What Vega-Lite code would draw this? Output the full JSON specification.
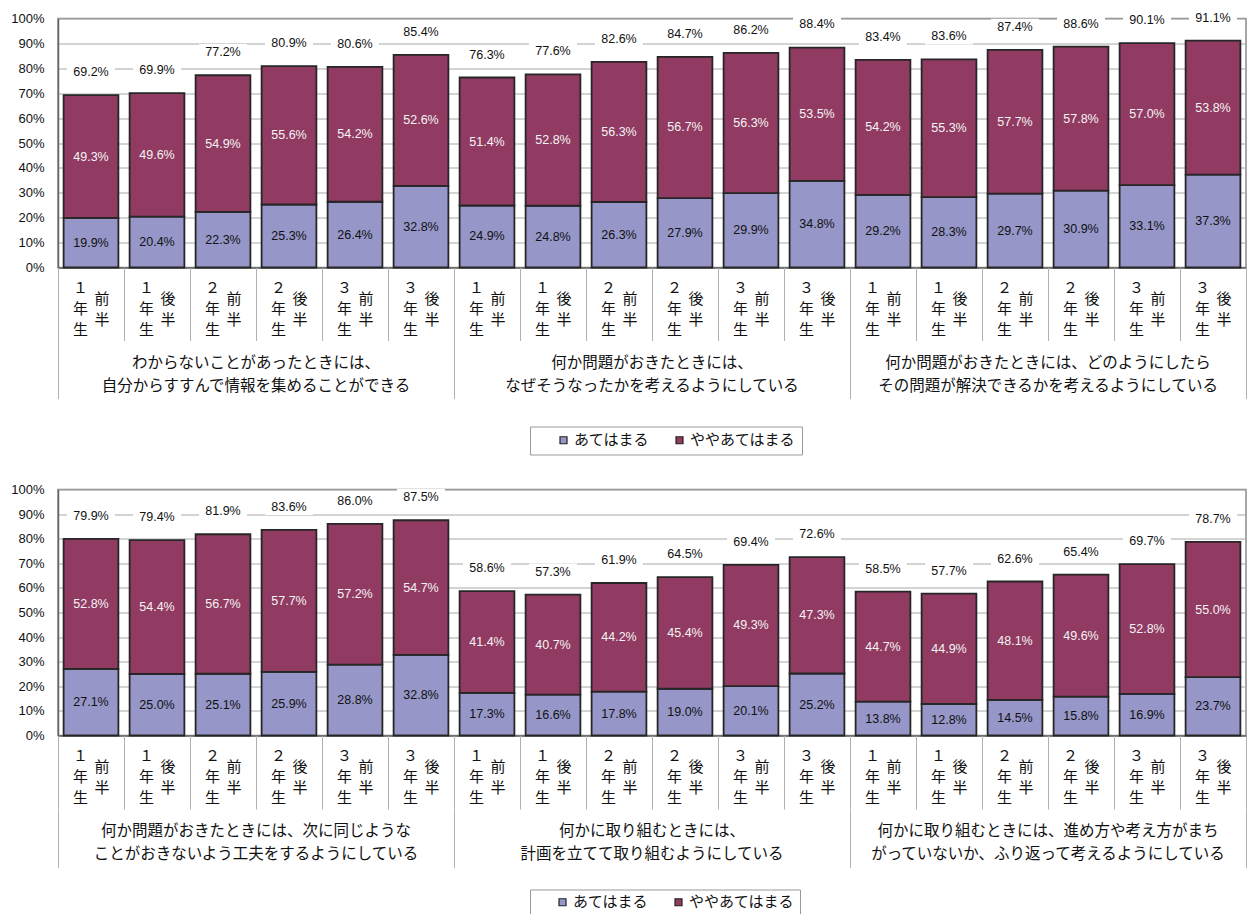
{
  "$schema": "https://vega.github.io/schema/vega-lite/v6.json",
  "background": "white",
  "padding": {"left": 10, "top": 8.5, "right": 0, "bottom": 0},
  "config": {
    "font": "Liberation Sans, Noto Sans CJK JP",
    "view": {"stroke": null},
    "text": {"color": "#111"},
    "axisY": {"tickCount": 12}
  },
  "datasets": {
    "seg": [
      {"p":1,"n":1,"type":"あてはまる","v":0.199},{"p":1,"n":1,"type":"ややあてはまる","v":0.493},
      {"p":1,"n":2,"type":"あてはまる","v":0.204},{"p":1,"n":2,"type":"ややあてはまる","v":0.496},
      {"p":1,"n":3,"type":"あてはまる","v":0.223},{"p":1,"n":3,"type":"ややあてはまる","v":0.549},
      {"p":1,"n":4,"type":"あてはまる","v":0.253},{"p":1,"n":4,"type":"ややあてはまる","v":0.556},
      {"p":1,"n":5,"type":"あてはまる","v":0.264},{"p":1,"n":5,"type":"ややあてはまる","v":0.542},
      {"p":1,"n":6,"type":"あてはまる","v":0.328},{"p":1,"n":6,"type":"ややあてはまる","v":0.526},
      {"p":1,"n":7,"type":"あてはまる","v":0.249},{"p":1,"n":7,"type":"ややあてはまる","v":0.514},
      {"p":1,"n":8,"type":"あてはまる","v":0.248},{"p":1,"n":8,"type":"ややあてはまる","v":0.528},
      {"p":1,"n":9,"type":"あてはまる","v":0.263},{"p":1,"n":9,"type":"ややあてはまる","v":0.563},
      {"p":1,"n":10,"type":"あてはまる","v":0.279},{"p":1,"n":10,"type":"ややあてはまる","v":0.567},
      {"p":1,"n":11,"type":"あてはまる","v":0.299},{"p":1,"n":11,"type":"ややあてはまる","v":0.563},
      {"p":1,"n":12,"type":"あてはまる","v":0.348},{"p":1,"n":12,"type":"ややあてはまる","v":0.535},
      {"p":1,"n":13,"type":"あてはまる","v":0.292},{"p":1,"n":13,"type":"ややあてはまる","v":0.542},
      {"p":1,"n":14,"type":"あてはまる","v":0.283},{"p":1,"n":14,"type":"ややあてはまる","v":0.553},
      {"p":1,"n":15,"type":"あてはまる","v":0.297},{"p":1,"n":15,"type":"ややあてはまる","v":0.577},
      {"p":1,"n":16,"type":"あてはまる","v":0.309},{"p":1,"n":16,"type":"ややあてはまる","v":0.578},
      {"p":1,"n":17,"type":"あてはまる","v":0.331},{"p":1,"n":17,"type":"ややあてはまる","v":0.570},
      {"p":1,"n":18,"type":"あてはまる","v":0.373},{"p":1,"n":18,"type":"ややあてはまる","v":0.538},
      {"p":2,"n":1,"type":"あてはまる","v":0.271},{"p":2,"n":1,"type":"ややあてはまる","v":0.528},
      {"p":2,"n":2,"type":"あてはまる","v":0.250},{"p":2,"n":2,"type":"ややあてはまる","v":0.544},
      {"p":2,"n":3,"type":"あてはまる","v":0.251},{"p":2,"n":3,"type":"ややあてはまる","v":0.567},
      {"p":2,"n":4,"type":"あてはまる","v":0.259},{"p":2,"n":4,"type":"ややあてはまる","v":0.577},
      {"p":2,"n":5,"type":"あてはまる","v":0.288},{"p":2,"n":5,"type":"ややあてはまる","v":0.572},
      {"p":2,"n":6,"type":"あてはまる","v":0.328},{"p":2,"n":6,"type":"ややあてはまる","v":0.547},
      {"p":2,"n":7,"type":"あてはまる","v":0.173},{"p":2,"n":7,"type":"ややあてはまる","v":0.414},
      {"p":2,"n":8,"type":"あてはまる","v":0.166},{"p":2,"n":8,"type":"ややあてはまる","v":0.407},
      {"p":2,"n":9,"type":"あてはまる","v":0.178},{"p":2,"n":9,"type":"ややあてはまる","v":0.442},
      {"p":2,"n":10,"type":"あてはまる","v":0.190},{"p":2,"n":10,"type":"ややあてはまる","v":0.454},
      {"p":2,"n":11,"type":"あてはまる","v":0.201},{"p":2,"n":11,"type":"ややあてはまる","v":0.493},
      {"p":2,"n":12,"type":"あてはまる","v":0.252},{"p":2,"n":12,"type":"ややあてはまる","v":0.473},
      {"p":2,"n":13,"type":"あてはまる","v":0.138},{"p":2,"n":13,"type":"ややあてはまる","v":0.447},
      {"p":2,"n":14,"type":"あてはまる","v":0.128},{"p":2,"n":14,"type":"ややあてはまる","v":0.449},
      {"p":2,"n":15,"type":"あてはまる","v":0.145},{"p":2,"n":15,"type":"ややあてはまる","v":0.481},
      {"p":2,"n":16,"type":"あてはまる","v":0.158},{"p":2,"n":16,"type":"ややあてはまる","v":0.496},
      {"p":2,"n":17,"type":"あてはまる","v":0.169},{"p":2,"n":17,"type":"ややあてはまる","v":0.528},
      {"p":2,"n":18,"type":"あてはまる","v":0.237},{"p":2,"n":18,"type":"ややあてはまる","v":0.550}
    ],
    "bar": [
      {"p":1,"n":1,"grade":"１\n年\n生","term":"前\n半","total":0.692},
      {"p":1,"n":2,"grade":"１\n年\n生","term":"後\n半","total":0.699},
      {"p":1,"n":3,"grade":"２\n年\n生","term":"前\n半","total":0.772},
      {"p":1,"n":4,"grade":"２\n年\n生","term":"後\n半","total":0.809},
      {"p":1,"n":5,"grade":"３\n年\n生","term":"前\n半","total":0.806},
      {"p":1,"n":6,"grade":"３\n年\n生","term":"後\n半","total":0.854},
      {"p":1,"n":7,"grade":"１\n年\n生","term":"前\n半","total":0.763},
      {"p":1,"n":8,"grade":"１\n年\n生","term":"後\n半","total":0.776},
      {"p":1,"n":9,"grade":"２\n年\n生","term":"前\n半","total":0.826},
      {"p":1,"n":10,"grade":"２\n年\n生","term":"後\n半","total":0.847},
      {"p":1,"n":11,"grade":"３\n年\n生","term":"前\n半","total":0.862},
      {"p":1,"n":12,"grade":"３\n年\n生","term":"後\n半","total":0.884},
      {"p":1,"n":13,"grade":"１\n年\n生","term":"前\n半","total":0.834},
      {"p":1,"n":14,"grade":"１\n年\n生","term":"後\n半","total":0.836},
      {"p":1,"n":15,"grade":"２\n年\n生","term":"前\n半","total":0.874},
      {"p":1,"n":16,"grade":"２\n年\n生","term":"後\n半","total":0.886},
      {"p":1,"n":17,"grade":"３\n年\n生","term":"前\n半","total":0.901},
      {"p":1,"n":18,"grade":"３\n年\n生","term":"後\n半","total":0.911},
      {"p":2,"n":1,"grade":"１\n年\n生","term":"前\n半","total":0.799},
      {"p":2,"n":2,"grade":"１\n年\n生","term":"後\n半","total":0.794},
      {"p":2,"n":3,"grade":"２\n年\n生","term":"前\n半","total":0.819},
      {"p":2,"n":4,"grade":"２\n年\n生","term":"後\n半","total":0.836},
      {"p":2,"n":5,"grade":"３\n年\n生","term":"前\n半","total":0.860},
      {"p":2,"n":6,"grade":"３\n年\n生","term":"後\n半","total":0.875},
      {"p":2,"n":7,"grade":"１\n年\n生","term":"前\n半","total":0.586},
      {"p":2,"n":8,"grade":"１\n年\n生","term":"後\n半","total":0.573},
      {"p":2,"n":9,"grade":"２\n年\n生","term":"前\n半","total":0.619},
      {"p":2,"n":10,"grade":"２\n年\n生","term":"後\n半","total":0.645},
      {"p":2,"n":11,"grade":"３\n年\n生","term":"前\n半","total":0.694},
      {"p":2,"n":12,"grade":"３\n年\n生","term":"後\n半","total":0.726},
      {"p":2,"n":13,"grade":"１\n年\n生","term":"前\n半","total":0.585},
      {"p":2,"n":14,"grade":"１\n年\n生","term":"後\n半","total":0.577},
      {"p":2,"n":15,"grade":"２\n年\n生","term":"前\n半","total":0.626},
      {"p":2,"n":16,"grade":"２\n年\n生","term":"後\n半","total":0.654},
      {"p":2,"n":17,"grade":"３\n年\n生","term":"前\n半","total":0.697},
      {"p":2,"n":18,"grade":"３\n年\n生","term":"後\n半","total":0.787}
    ],
    "grp": [
      {"p":1,"q":1,"label":"わからないことがあったときには、\n自分からすすんで情報を集めることができる"},
      {"p":1,"q":2,"label":"何か問題がおきたときには、\nなぜそうなったかを考えるようにしている"},
      {"p":1,"q":3,"label":"何か問題がおきたときには、どのようにしたら\nその問題が解決できるかを考えるようにしている"},
      {"p":2,"q":4,"label":"何か問題がおきたときには、次に同じような\nことがおきないよう工夫をするようにしている"},
      {"p":2,"q":5,"label":"何かに取り組むときには、\n計画を立てて取り組むようにしている"},
      {"p":2,"q":6,"label":"何かに取り組むときには、進め方や考え方がまち\nがっていないか、ふり返って考えるようにしている"}
    ]
  },
  "bounds": "flush",
  "spacing": 0,
  "resolve": {"scale": {"x": "independent", "y": "independent", "color": "independent"}, "legend": {"color": "independent"}},
  "vconcat": [
    {
      "width": 1188, "height": 249,
      "view": {"stroke": "#8a8a8a", "strokeWidth": 1.5},
      "encoding": {
        "x": {"field": "n", "type": "ordinal", "scale": {"paddingInner": 0.17, "paddingOuter": 0.085}, "axis": {"title": null, "labels": false, "ticks": false, "grid": false, "domainColor": "#666", "domainWidth": 1.5}}
      },
      "layer": [
        {
          "data": {"name": "seg"}, "transform": [{"filter": "datum.p == 1"}],
          "mark": {"type": "bar", "stroke": "#262626", "strokeWidth": 1.8},
          "encoding": {
            "y": {"field": "v", "type": "quantitative", "stack": "zero", "scale": {"domain": [0, 1], "nice": false}, "axis": {"title": null, "values": [0,0.1,0.2,0.3,0.4,0.5,0.6,0.7,0.8,0.9,1], "tickCount": 12, "format": ".0%", "ticks": false, "labelPadding": 14, "labelFontSize": 13, "labelColor": "#111", "labelFont": "Liberation Sans", "labelFlush": false, "labelOverlap": false, "gridColor": "#a8a8a8", "gridWidth": 1, "domainColor": "#666", "domainWidth": 1.5}},
            "order": {"field": "type", "sort": "ascending"},
            "color": {"field": "type", "type": "nominal", "scale": {"domain": ["あてはまる", "ややあてはまる"], "range": ["#9696C8", "#913A62"]},
              "legend": {"orient": "none", "legendX": 472, "legendY": 408, "direction": "horizontal", "title": null, "strokeColor": "#999", "fillColor": "white", "padding": 6, "symbolType": "square", "symbolSize": 49, "symbolStrokeColor": "#222", "symbolStrokeWidth": 1.2, "labelFontSize": 15, "labelFont": "Noto Sans CJK JP", "labelColor": "#111", "symbolOffset": 20, "labelOffset": 3, "columnPadding": 2}}
          }
        },
        {
          "data": {"name": "seg"}, "transform": [{"filter": "datum.p == 1"}],
          "mark": {"type": "text", "fontSize": 12.5, "font": "Liberation Sans", "baseline": "middle"},
          "encoding": {
            "y": {"field": "v", "type": "quantitative", "stack": "zero", "bandPosition": 0.5},
            "detail": {"field": "type"},
            "order": {"field": "type", "sort": "ascending"},
            "text": {"field": "v", "format": ".1%"},
            "color": {"condition": {"test": "datum.type === 'あてはまる'", "value": "#111"}, "value": "#f4f4f4"}
          }
        },
        {
          "data": {"name": "bar"}, "transform": [{"filter": "datum.p == 1"}],
          "mark": {"type": "point", "shape": "M-1,-0.34H1V0.34H-1Z", "size": 2304, "filled": true, "fill": "white", "opacity": 1, "strokeWidth": 0, "yOffset": -23},
          "encoding": {"y": {"field": "total", "type": "quantitative"}}
        },
        {
          "data": {"name": "bar"}, "transform": [{"filter": "datum.p == 1"}],
          "mark": {"type": "text", "fontSize": 12.5, "font": "Liberation Sans", "baseline": "middle", "yOffset": -23},
          "encoding": {"y": {"field": "total", "type": "quantitative"}, "text": {"field": "total", "format": ".1%"}}
        }
      ]
    },
    {
      "width": 1188, "height": 73,
      "data": {"name": "bar"}, "transform": [{"filter": "datum.p == 1"}],
      "layer": [
        {
          "mark": {"type": "text", "lineBreak": "\n", "font": "Noto Sans CJK JP", "fontSize": 15, "lineHeight": 21, "baseline": "middle", "xOffset": -10.5, "yOffset": -16.5},
          "encoding": {
            "x": {"field": "n", "type": "ordinal", "scale": {"paddingInner": 0, "paddingOuter": 0}, "axis": {"orient": "top", "title": null, "labels": false, "ticks": false, "domain": false, "grid": true, "tickBand": "extent", "gridColor": "#b0b0b0", "gridWidth": 1}},
            "text": {"field": "grade"}
          }
        },
        {
          "mark": {"type": "text", "lineBreak": "\n", "font": "Noto Sans CJK JP", "fontSize": 15, "lineHeight": 21, "baseline": "middle", "xOffset": 11, "yOffset": -5.5},
          "encoding": {"x": {"field": "n", "type": "ordinal"}, "text": {"field": "term"}}
        }
      ]
    },
    {
      "width": 1188, "height": 58,
      "data": {"name": "grp"}, "transform": [{"filter": "datum.p == 1"}],
      "mark": {"type": "text", "lineBreak": "\n", "font": "Noto Sans CJK JP", "fontSize": 15.5, "lineHeight": 23, "baseline": "middle", "yOffset": -7},
      "encoding": {
        "x": {"field": "q", "type": "ordinal", "scale": {"paddingInner": 0, "paddingOuter": 0}, "axis": {"orient": "top", "title": null, "labels": false, "ticks": false, "domain": false, "grid": true, "tickBand": "extent", "gridColor": "#b0b0b0", "gridWidth": 1}},
        "text": {"field": "label"}
      }
    },
    {
      "width": 1188, "height": 90.5,
      "data": {"name": "grp"}, "transform": [{"filter": "datum.p == 0"}],
      "mark": {"type": "text"},
      "encoding": {"text": {"field": "label"}}
    },
    {
      "width": 1188, "height": 246,
      "view": {"stroke": "#8a8a8a", "strokeWidth": 1.5},
      "encoding": {
        "x": {"field": "n", "type": "ordinal", "scale": {"paddingInner": 0.17, "paddingOuter": 0.085}, "axis": {"title": null, "labels": false, "ticks": false, "grid": false, "domainColor": "#666", "domainWidth": 1.5}}
      },
      "layer": [
        {
          "data": {"name": "seg"}, "transform": [{"filter": "datum.p == 2"}],
          "mark": {"type": "bar", "stroke": "#262626", "strokeWidth": 1.8},
          "encoding": {
            "y": {"field": "v", "type": "quantitative", "stack": "zero", "scale": {"domain": [0, 1], "nice": false}, "axis": {"title": null, "values": [0,0.1,0.2,0.3,0.4,0.5,0.6,0.7,0.8,0.9,1], "tickCount": 12, "format": ".0%", "ticks": false, "labelPadding": 14, "labelFontSize": 13, "labelColor": "#111", "labelFont": "Liberation Sans", "labelFlush": false, "labelOverlap": false, "gridColor": "#a8a8a8", "gridWidth": 1, "domainColor": "#666", "domainWidth": 1.5}},
            "order": {"field": "type", "sort": "ascending"},
            "color": {"field": "type", "type": "nominal", "scale": {"domain": ["あてはまる", "ややあてはまる"], "range": ["#9696C8", "#913A62"]},
              "legend": {"orient": "none", "legendX": 472, "legendY": 400, "direction": "horizontal", "title": null, "strokeColor": "#999", "fillColor": "white", "padding": 5, "symbolType": "square", "symbolSize": 49, "symbolStrokeColor": "#222", "symbolStrokeWidth": 1.2, "labelFontSize": 15, "labelFont": "Noto Sans CJK JP", "labelColor": "#111", "symbolOffset": 20, "labelOffset": 3, "columnPadding": 2}}
          }
        },
        {
          "data": {"name": "seg"}, "transform": [{"filter": "datum.p == 2"}],
          "mark": {"type": "text", "fontSize": 12.5, "font": "Liberation Sans", "baseline": "middle"},
          "encoding": {
            "y": {"field": "v", "type": "quantitative", "stack": "zero", "bandPosition": 0.5},
            "detail": {"field": "type"},
            "order": {"field": "type", "sort": "ascending"},
            "text": {"field": "v", "format": ".1%"},
            "color": {"condition": {"test": "datum.type === 'あてはまる'", "value": "#111"}, "value": "#f4f4f4"}
          }
        },
        {
          "data": {"name": "bar"}, "transform": [{"filter": "datum.p == 2"}],
          "mark": {"type": "point", "shape": "M-1,-0.34H1V0.34H-1Z", "size": 2304, "filled": true, "fill": "white", "opacity": 1, "strokeWidth": 0, "yOffset": -23},
          "encoding": {"y": {"field": "total", "type": "quantitative"}}
        },
        {
          "data": {"name": "bar"}, "transform": [{"filter": "datum.p == 2"}],
          "mark": {"type": "text", "fontSize": 12.5, "font": "Liberation Sans", "baseline": "middle", "yOffset": -23},
          "encoding": {"y": {"field": "total", "type": "quantitative"}, "text": {"field": "total", "format": ".1%"}}
        }
      ]
    },
    {
      "width": 1188, "height": 73.5,
      "data": {"name": "bar"}, "transform": [{"filter": "datum.p == 2"}],
      "layer": [
        {
          "mark": {"type": "text", "lineBreak": "\n", "font": "Noto Sans CJK JP", "fontSize": 15, "lineHeight": 21, "baseline": "middle", "xOffset": -10.5, "yOffset": -16.5},
          "encoding": {
            "x": {"field": "n", "type": "ordinal", "scale": {"paddingInner": 0, "paddingOuter": 0}, "axis": {"orient": "top", "title": null, "labels": false, "ticks": false, "domain": false, "grid": true, "tickBand": "extent", "gridColor": "#b0b0b0", "gridWidth": 1}},
            "text": {"field": "grade"}
          }
        },
        {
          "mark": {"type": "text", "lineBreak": "\n", "font": "Noto Sans CJK JP", "fontSize": 15, "lineHeight": 21, "baseline": "middle", "xOffset": 11, "yOffset": -5.5},
          "encoding": {"x": {"field": "n", "type": "ordinal"}, "text": {"field": "term"}}
        }
      ]
    },
    {
      "width": 1188, "height": 58,
      "data": {"name": "grp"}, "transform": [{"filter": "datum.p == 2"}],
      "mark": {"type": "text", "lineBreak": "\n", "font": "Noto Sans CJK JP", "fontSize": 15.5, "lineHeight": 23, "baseline": "middle", "yOffset": -8},
      "encoding": {
        "x": {"field": "q", "type": "ordinal", "scale": {"paddingInner": 0, "paddingOuter": 0}, "axis": {"orient": "top", "title": null, "labels": false, "ticks": false, "domain": false, "grid": true, "tickBand": "extent", "gridColor": "#b0b0b0", "gridWidth": 1}},
        "text": {"field": "label"}
      }
    }
  ]
}
